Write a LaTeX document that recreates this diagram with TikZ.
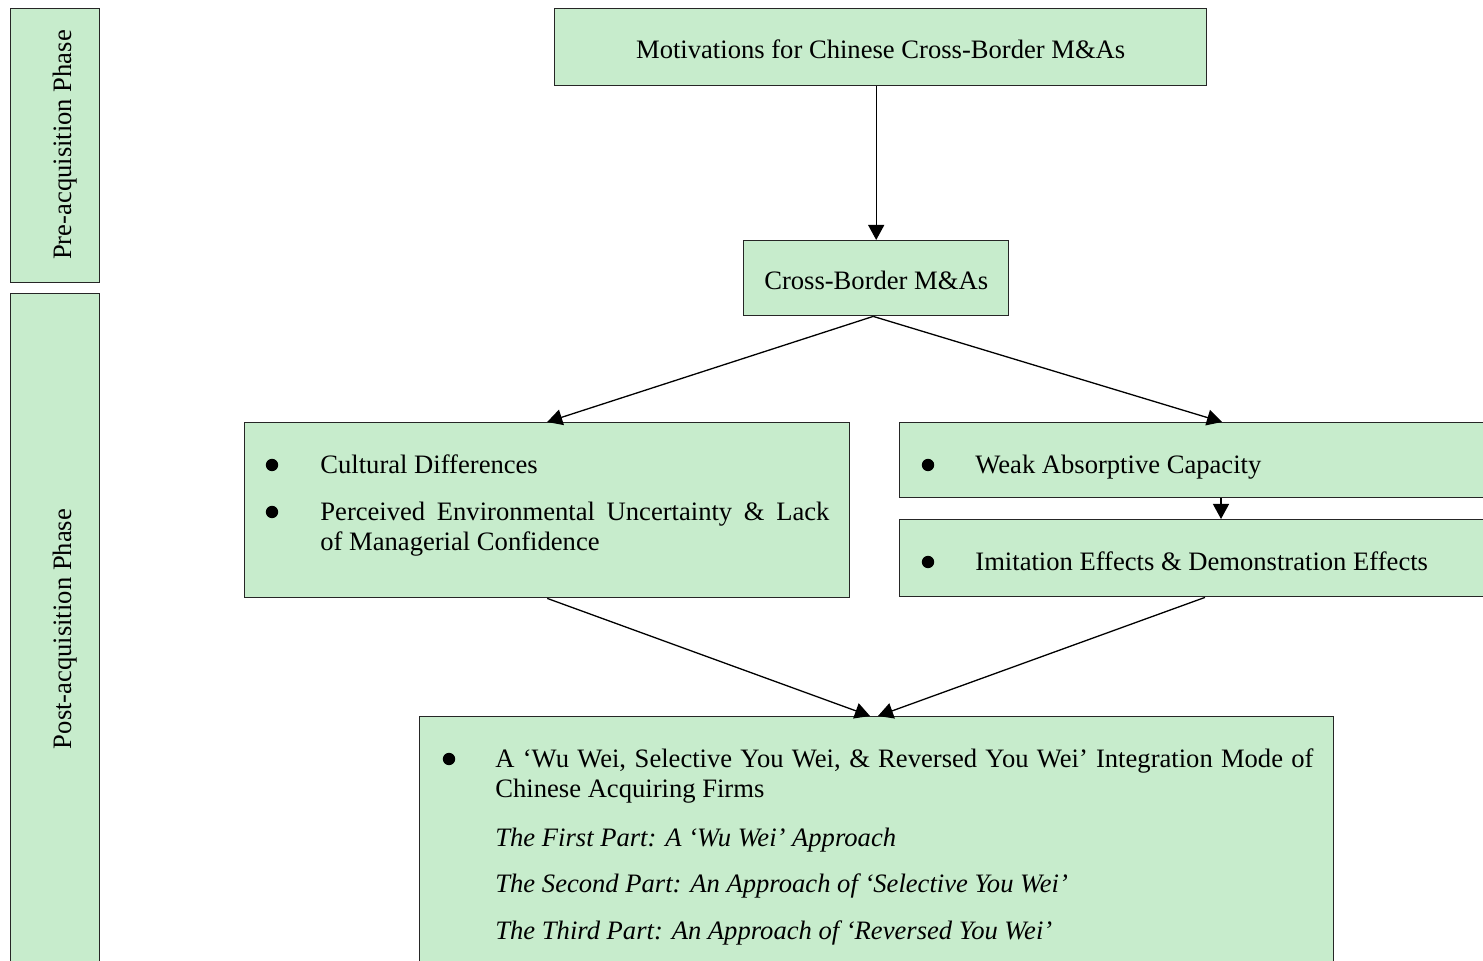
\documentclass[tikz,border=0pt]{standalone}
\usepackage{fontspec}
\setmainfont{Liberation Serif}
\usetikzlibrary{arrows.meta}
\definecolor{boxgreen}{RGB}{199,236,204}

\begin{document}
\begin{tikzpicture}[x=0.5pt, y=-0.5pt, font=\fontsize{13.3}{15}\selectfont,
    box/.style={draw=black!85, line width=0.7pt, fill=boxgreen, anchor=north west, inner sep=0pt},
    dot/.style={circle, fill=black, inner sep=0pt, minimum size=6.2pt},
    item/.style={anchor=base west, inner sep=0pt},
    para/.style={anchor=north west, inner sep=0pt, align=justify},
    link/.style={line width=0.65pt, -{Triangle[length=7.5pt,width=8pt]}}]
    \useasboundingbox (0, 0) rectangle (1483, 961);
    \clip (0, 0) rectangle (1483, 961);

    % phase columns
    \node [box, minimum width=44.5pt, minimum height=137pt] (pre) at (10, 8) {};
    \node [rotate=90] (prelabel) at (65, 145) {Pre-acquisition Phase};
    \node [box, minimum width=44.5pt, minimum height=336pt] (post) at (10, 293) {};
    \node [rotate=90] (postlabel) at (65, 629) {Post-acquisition Phase};

    % boxes
    \node [box, minimum width=326pt, minimum height=38.5pt, text height=11pt, text depth=0pt] (motiv) at (554, 8) {Motivations for Chinese Cross-Border M\&As};
    \node [box, minimum width=132.5pt, minimum height=37.5pt, text height=11pt, text depth=0pt] (cross) at (743, 240) {Cross-Border M\&As};
    \node [box, minimum width=302.5pt, minimum height=87.5pt] (barrier) at (244, 422) {};
    \node [box, minimum width=300.5pt, minimum height=37.5pt] (weak) at (899, 422) {};
    \node [box, minimum width=300.5pt, minimum height=38.5pt] (imit) at (899, 519) {};
    \node [box, minimum width=457pt, minimum height=129.5pt] (mode) at (419, 716) {};

    % texts
    \node [dot] (d1) at (272, 465) {};
    \node [item] (t1) at (320, 474) {Cultural Differences};
    \node [dot] (d2) at (272, 512) {};
    \node [para, text width=254.5pt] (t2) at (320, 499) {\strut Perceived Environmental Uncertainty \& Lack\linebreak of Managerial Confidence};

    \node [dot] (d3) at (928, 465) {};
    \node [item] (t3) at (975, 474) {Weak Absorptive Capacity};
    \node [dot] (d4) at (928, 562) {};
    \node [item] (t4) at (975, 571) {Imitation Effects \& Demonstration Effects};

    \node [dot] (d5) at (449, 759) {};
    \node [para, text width=409pt] (t5) at (495, 746) {\strut A ‘Wu Wei, Selective You Wei, \& Reversed You Wei’ Integration Mode of\linebreak Chinese Acquiring Firms};
    \node [item] (t6) at (495, 846) {\itshape The First Part: A ‘Wu Wei’ Approach};
    \node [item] (t7) at (495, 892) {\itshape The Second Part: An Approach of ‘Selective You Wei’};
    \node [item] (t8) at (495, 939) {\itshape The Third Part: An Approach of ‘Reversed You Wei’};

    % arrows
    \draw [link] (motiv.south -| cross.north) -- (cross.north);
    \draw [link] ([xshift=-1.5pt]cross.south) -- (barrier.north);
    \draw [link] ([xshift=-1.5pt]cross.south) -- ([xshift=161.5pt]weak.north west);
    \draw [link] ([xshift=161pt]weak.south west) -- ([xshift=161pt]imit.north west);
    \draw [link] (barrier.south) -- ([xshift=225.5pt]mode.north west);
    \draw [link] ([xshift=153pt]imit.south west) -- ([xshift=229.5pt]mode.north west);
  \end{tikzpicture}
\end{document}
